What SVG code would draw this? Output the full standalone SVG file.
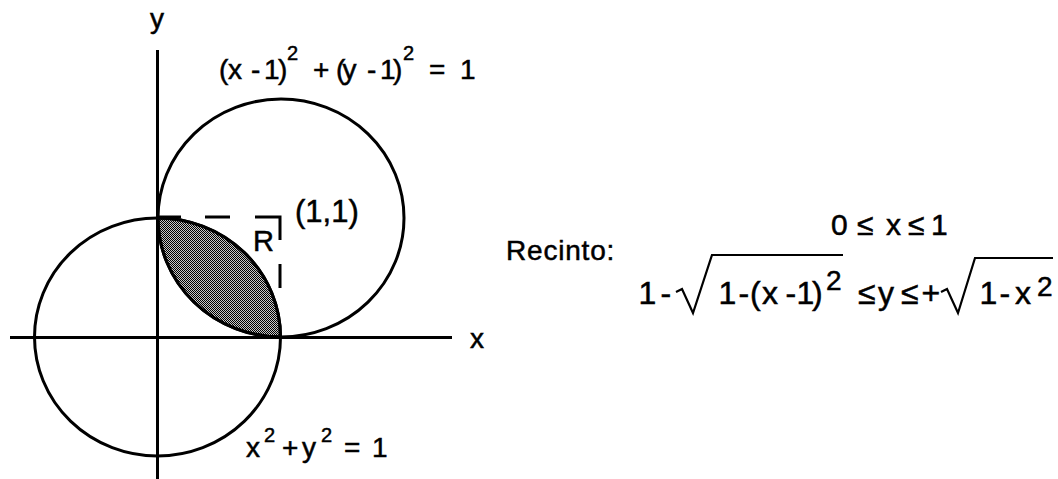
<svg xmlns="http://www.w3.org/2000/svg" width="1058" height="479" viewBox="0 0 1058 479">
<style>
.t{font-family:"Liberation Sans",Arial,Helvetica,sans-serif;fill:#000;stroke:#000;stroke-width:0.5}
.ln{stroke:#000;stroke-width:3;fill:none}
</style>
<defs>
<pattern id="stip" width="2" height="2" patternUnits="userSpaceOnUse">
<rect width="2" height="2" fill="#c8c8c8"/>
<rect x="0" y="0" width="1" height="1" fill="#000"/>
<rect x="1" y="1" width="1" height="1" fill="#000"/>
</pattern>
</defs>
<rect width="1058" height="479" fill="#fff"/>
<g id="shaded-region">
<path d="M157.5,218 A122.5 119 0 0 1 280.5,337 A123 119 0 0 1 158,218 Z" fill="url(#stip)" stroke="#000" stroke-width="3"/>
</g>
<g id="axes">
<line class="ln" x1="157.5" y1="50" x2="157.5" y2="479"/>
<line class="ln" x1="10" y1="337.5" x2="452" y2="337.5"/>
</g>
<g id="circle-unit">
<ellipse class="ln" cx="157.5" cy="337" rx="123" ry="119"/>
</g>
<g id="circle-shifted">
<ellipse class="ln" cx="281" cy="218" rx="123" ry="119"/>
</g>
<g id="dashed">
<path class="ln" d="M158,217 H181 M205,217 H230 M255,217 H280 V240 M280,264 V288"/>
</g>
<g id="labels">
<text class="t" x="150" y="28" font-size="28">y</text>
<text class="t" x="470" y="348" font-size="28">x</text>
<text class="t" font-size="28" y="79"><tspan x="219 228 251 264 278">(x-1)</tspan><tspan font-size="20" x="287" y="60">2</tspan><tspan x="313 336 342.5 367 380 393" y="79">+(y-1)</tspan><tspan font-size="20" x="403" y="60">2</tspan><tspan x="429 460" y="79">=1</tspan></text>
<text class="t" x="295" y="222" font-size="31">(1,1)</text>
<text class="t" x="253" y="251" font-size="29">R</text>
<text class="t" font-size="28" y="457"><tspan x="246">x</tspan><tspan font-size="20" x="264" y="442">2</tspan><tspan x="282 302" y="457">+y</tspan><tspan font-size="20" x="321" y="442">2</tspan><tspan x="344 372" y="457">=1</tspan></text>
</g>
<g id="recinto">
<text class="t" x="506" y="260" font-size="28" letter-spacing="0.8">Recinto:</text>
<text class="t" font-size="30" y="235" x="831 857 886 908 931">0≤x≤1</text>
<text class="t" font-size="32" y="304"><tspan x="638.5 660.6 718.5 738.6 750 762 785.6 796.5 812">1-1-(x-1)</tspan><tspan font-size="28" x="826" y="290">2</tspan><tspan x="858 878 901 921.5 979.5 999.6 1015" y="304">≤y≤+1-x</tspan><tspan font-size="28" x="1037" y="296">2</tspan></text>
<path d="M676,292 L682,289 L693,313 L712,255 H843" fill="none" stroke="#000" stroke-width="2.2"/>
<path d="M941,292 L947,289 L958,313 L975,258 H1053" fill="none" stroke="#000" stroke-width="2.2"/>
</g>
</svg>
